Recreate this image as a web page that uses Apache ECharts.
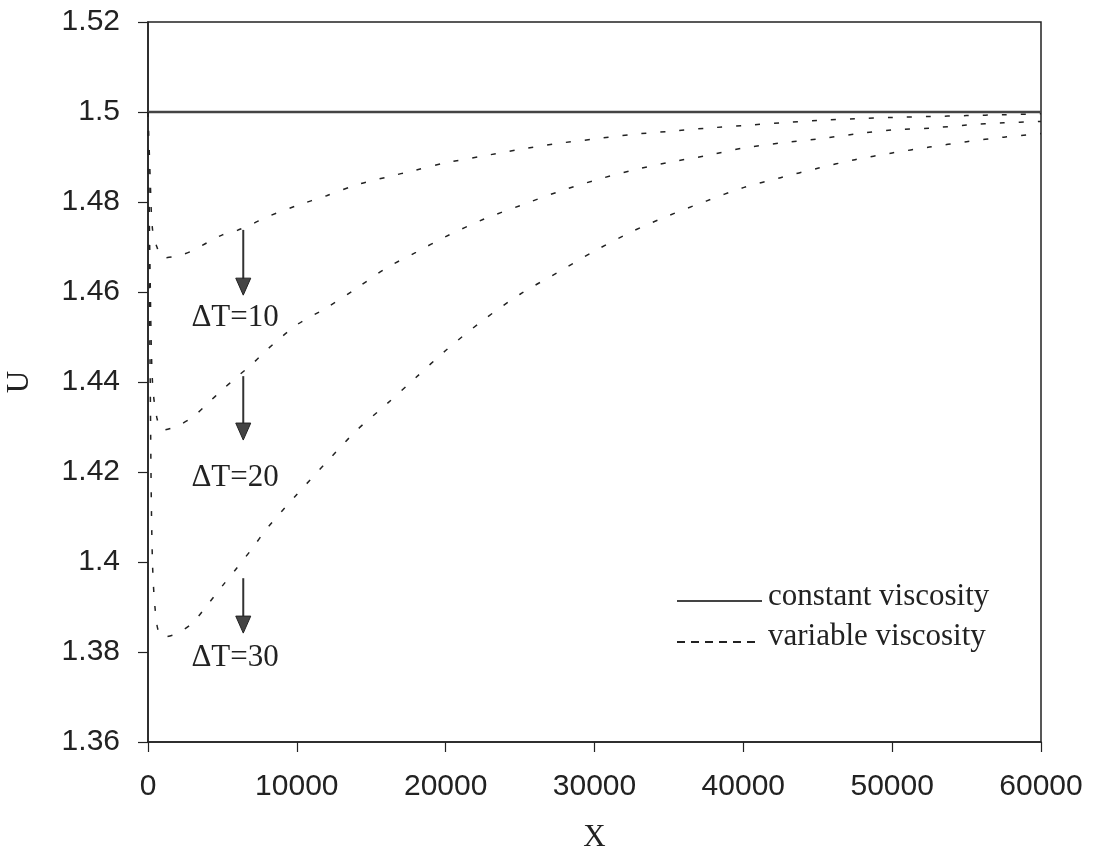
<!DOCTYPE html>
<html>
<head>
<meta charset="utf-8">
<style>
  html, body { margin: 0; padding: 0; background: #fff; }
  #chart { width: 1096px; height: 861px; }
</style>
<script src="https://cdn.jsdelivr.net/npm/echarts@6/dist/echarts.min.js"></script>
</head>
<body>
<div id="chart"></div>
<script>
// Axial position X along the channel
const xValues = [0, 150, 300, 600, 1000, 2000, 3000, 4000, 5000, 6000, 7000, 8000,
  10000, 12000, 14000, 16000, 18000, 20000, 22500, 25000, 27500, 30000, 32500,
  35000, 37500, 40000, 42500, 45000, 47500, 50000, 52500, 55000, 57500, 60000];

// Velocity U, constant viscosity
const constantU = 1.5;

// Velocity U, variable viscosity, for each temperature difference
const uDeltaT10 = [1.5, 1.485, 1.474, 1.4700, 1.4676, 1.4680, 1.4692, 1.4710, 1.4727, 1.4737,
  1.4751, 1.4767, 1.4792, 1.4814, 1.4838, 1.4855, 1.4871, 1.4887, 1.4902, 1.4917, 1.4930,
  1.4940, 1.4950, 1.4957, 1.4964, 1.4970, 1.4976, 1.4981, 1.4985, 1.4988, 1.4990, 1.4992,
  1.4994, 1.4996];
const uDeltaT20 = [1.5, 1.462, 1.440, 1.4320, 1.4293, 1.4303, 1.4322, 1.4352, 1.4383, 1.4412,
  1.4440, 1.4472, 1.4527, 1.4565, 1.4608, 1.4653, 1.4688, 1.4723, 1.4761, 1.4792, 1.4822,
  1.4848, 1.4870, 1.4888, 1.4903, 1.4920, 1.4931, 1.4940, 1.4951, 1.4960, 1.4964, 1.4971,
  1.4976, 1.4979];
const uDeltaT30 = [1.5, 1.440, 1.400, 1.3860, 1.3833, 1.3842, 1.3865, 1.3905, 1.3947, 1.3988,
  1.4030, 1.4075, 1.4150, 1.4222, 1.4292, 1.4350, 1.4410, 1.4470, 1.4537, 1.4595, 1.4643,
  1.4691, 1.4734, 1.4770, 1.4802, 1.4832, 1.4854, 1.4875, 1.4894, 1.4909, 1.4922, 1.4934,
  1.4944, 1.4952];

// Axis ticks
const xTicks = [0, 10000, 20000, 30000, 40000, 50000, 60000];
const yTicks = [1.36, 1.38, 1.40, 1.42, 1.44, 1.46, 1.48, 1.50, 1.52];

// Annotation labels and downward arrows (data coordinates)
const deltaLabels = ['\u0394T=10', '\u0394T=20', '\u0394T=30'];
const arrowX = 6400;
const arrowTop = [1.4738, 1.4413, 1.3964];
const arrowTip = [1.4593, 1.4271, 1.3842];
const labelX = 5850;
const labelY = [1.4542, 1.4187, 1.3787];

const legendNames = ['constant viscosity', 'variable viscosity'];

const pair = (xs, ys) => xs.map((x, i) => [x, ys[i]]);

const chart = echarts.init(document.getElementById('chart'), null, { renderer: 'canvas' });

const dashed = { color: '#222', width: 1.5, type: [5, 14] };
const serif = '"Liberation Serif", "Times New Roman", serif';
const sans = '"Liberation Sans", Arial, sans-serif';

chart.setOption({
  animation: false,
  backgroundColor: '#ffffff',
  grid: {
    left: 148, right: 55, top: 22, bottom: 119,
    containLabel: false, outerBoundsMode: 'none',
    show: true, borderColor: '#222', borderWidth: 1.5, backgroundColor: 'transparent'
  },
  xAxis: {
    type: 'value',
    min: xTicks[0], max: xTicks[xTicks.length - 1],
    interval: xTicks[1] - xTicks[0],
    name: 'X', nameLocation: 'middle', nameGap: 80,
    nameTextStyle: { fontFamily: serif, fontSize: 31, color: '#222' },
    axisLine: { lineStyle: { color: '#222', width: 1.5 } },
    axisTick: { show: true, length: 10, inside: false, lineStyle: { color: '#222', width: 1.2 } },
    axisLabel: { fontFamily: sans, fontSize: 30, color: '#222', margin: 30, formatter: v => String(v) },
    splitLine: { show: false }
  },
  yAxis: {
    type: 'value',
    min: yTicks[0], max: yTicks[yTicks.length - 1],
    interval: 0.02,
    name: 'U', nameLocation: 'middle', nameGap: 113, nameRotate: 90,
    nameTextStyle: { fontFamily: serif, fontSize: 31, color: '#222' },
    axisLine: { lineStyle: { color: '#222', width: 1.5 } },
    axisTick: { show: true, length: 10, inside: false, lineStyle: { color: '#222', width: 1.2 } },
    axisLabel: {
      fontFamily: sans, fontSize: 30, color: '#222', margin: 28,
      formatter: v => String(+v.toFixed(2))
    },
    splitLine: { show: false }
  },
  series: [
    {
      name: legendNames[0], type: 'line', showSymbol: false,
      data: [[xTicks[0], constantU], [xTicks[xTicks.length - 1], constantU]],
      lineStyle: { color: '#444', width: 2.5 }, z: 3
    },
    {
      name: legendNames[1], type: 'line', showSymbol: false, smooth: 0.3,
      data: pair(xValues, uDeltaT10), lineStyle: dashed
    },
    {
      name: legendNames[1], type: 'line', showSymbol: false, smooth: 0.3,
      data: pair(xValues, uDeltaT20), lineStyle: dashed
    },
    {
      name: legendNames[1], type: 'line', showSymbol: false, smooth: 0.3,
      data: pair(xValues, uDeltaT30), lineStyle: dashed
    }
  ]
});

// Annotations placed through the grid's coordinate system
const toPx = (x, y) => chart.convertToPixel({ gridIndex: 0 }, [x, y]);
const graphics = [];
deltaLabels.forEach((txt, i) => {
  const top = toPx(arrowX, arrowTop[i]);
  const tip = toPx(arrowX, arrowTip[i]);
  const headH = 17, headW = 15;
  graphics.push({
    type: 'line',
    shape: { x1: top[0], y1: top[1], x2: tip[0], y2: tip[1] - headH + 2 },
    style: { stroke: '#333', lineWidth: 2 }, z: 10
  });
  graphics.push({
    type: 'polygon',
    shape: { points: [[tip[0] - headW / 2, tip[1] - headH], [tip[0] + headW / 2, tip[1] - headH], [tip[0], tip[1]]] },
    style: { fill: '#444', stroke: '#222', lineWidth: 1 }, z: 10
  });
  const lp = toPx(labelX, labelY[i]);
  graphics.push({
    type: 'text', x: lp[0], y: lp[1],
    style: { text: txt, font: '31px ' + serif, fill: '#222', align: 'center', verticalAlign: 'middle' },
    z: 10
  });
});

// Legend box: sample lines with their captions
const legendLeft = 677, legendLineW = 85, legendTop = 601, legendGap = 41;
graphics.push({
  type: 'line',
  shape: { x1: legendLeft, y1: legendTop, x2: legendLeft + legendLineW, y2: legendTop },
  style: { stroke: '#444', lineWidth: 2 }, z: 10
});
graphics.push({
  type: 'line',
  shape: { x1: legendLeft, y1: legendTop + legendGap, x2: legendLeft + legendLineW - 2, y2: legendTop + legendGap },
  style: { stroke: '#222', lineWidth: 2, lineDash: [8, 6] }, z: 10
});
legendNames.forEach((name, i) => {
  graphics.push({
    type: 'text', x: legendLeft + legendLineW + 6, y: 597 + i * 40,
    style: { text: name, font: '31px ' + serif, fill: '#222', align: 'left', verticalAlign: 'middle' },
    z: 10
  });
});

chart.setOption({ graphic: graphics });
</script>
</body>
</html>
